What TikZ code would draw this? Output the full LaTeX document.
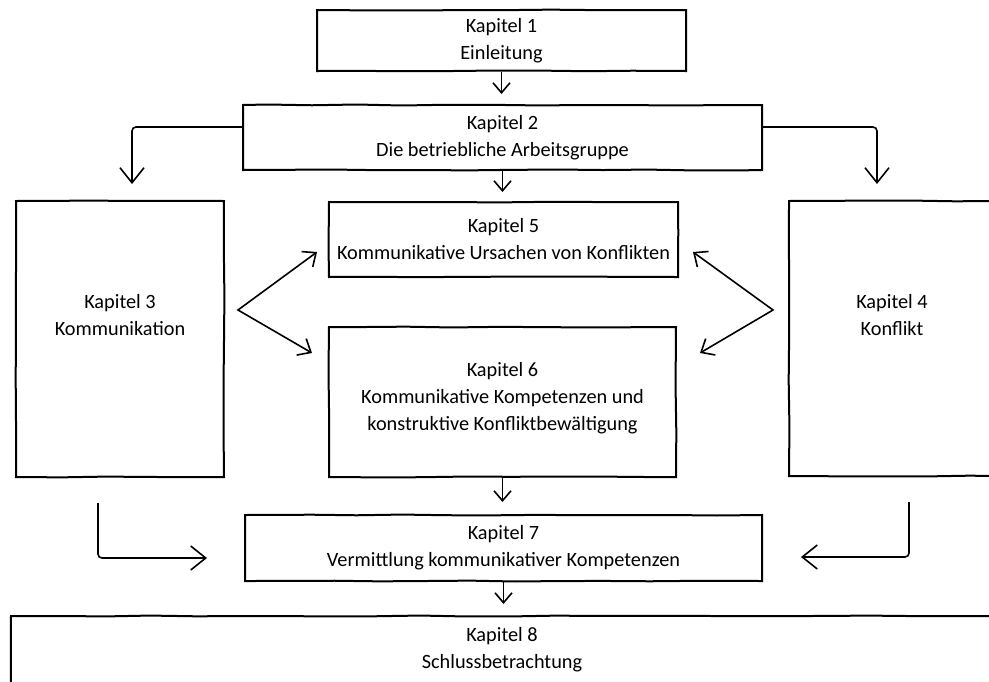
\documentclass[tikz,border=0pt]{standalone}
\usepackage{fontspec}
\setmainfont{Carlito}
\usetikzlibrary{arrows.meta,decorations.pathmorphing}
\begin{document}
\begin{tikzpicture}[x=1pt,y=-1pt,
  box/.style={draw, line width=2pt, inner sep=0pt,
    decorate, decoration={random steps, segment length=45pt, amplitude=0.5pt}},
  txt/.style={font=\fontsize{20.3}{27}\selectfont, align=center, inner sep=0pt},
  conn/.style={line width=1.6pt, -{Straight Barb[length=10pt,width=17pt,line width=1.6pt]}},
  bigconn/.style={line width=1.6pt, rounded corners=4pt,
    -{Straight Barb[length=15pt,width=24pt,line width=1.6pt]}},
  bidir/.style={line width=1.6pt,
    {Straight Barb[length=11pt,width=19pt,line width=1.6pt]}-{Straight Barb[length=11pt,width=19pt,line width=1.6pt]}}
]
\pgfmathsetseed{7}
\useasboundingbox (0,0) rectangle (989,681);
\clip (0,0) rectangle (989,681);

% boxes
\node[box, minimum width=369pt, minimum height=61pt] (k1) at (501.5,40.5) {};
\node[box, minimum width=519pt, minimum height=65pt] (k2) at (502.5,137.5) {};
\node[box, minimum width=208pt, minimum height=276pt] (k3) at (120,339) {};
\node[box, minimum width=211pt, minimum height=275pt] (k4) at (894.5,338.5) {};
\node[box, minimum width=349pt, minimum height=75pt] (k5) at (503.5,239.5) {};
\node[box, minimum width=347pt, minimum height=150pt] (k6) at (502.5,402) {};
\node[box, minimum width=517pt, minimum height=66pt] (k7) at (503.5,548) {};
\node[box, minimum width=994pt, minimum height=84pt] (k8) at (508,658) {};

% texts
\node[txt] (t1) at (k1.center) {Kapitel 1\\Einleitung};
\node[txt] (t2) at (k2.center) {Kapitel 2\\Die betriebliche Arbeitsgruppe};
\node[txt] (t3) at (120,315) {Kapitel 3\\Kommunikation};
\node[txt] (t4) at (892,315) {Kapitel 4\\Konflikt};
\node[txt] (t5) at (k5.center) {Kapitel 5\\Kommunikative Ursachen von Konflikten};
\node[txt] (t6) at (502.5,398.5) {Kapitel 6\\Kommunikative Kompetenzen und\\konstruktive Konfliktbewältigung};
\node[txt] (t7) at (k7.center) {Kapitel 7\\Vermittlung kommunikativer Kompetenzen};
\node[txt] (t8) at (502,650) {Kapitel 8\\Schlussbetrachtung};

% coordinates
\coordinate (b1) at (132,127);
\coordinate (b2) at (877,127);
\coordinate (s3) at (98,503);
\coordinate (t7l) at (207,558);
\coordinate (s4) at (909,502);
\coordinate (t7r) at (801,557);
\coordinate (v1) at (238,310);
\coordinate (t5l) at (317,252);
\coordinate (t6l) at (312,353);
\coordinate (v2) at (773,310);
\coordinate (t5r) at (693,252);
\coordinate (t6r) at (700,353);

% connectors
\draw[conn, shorten >=10pt] (k1.south) -- (k1.south |- k2.north);
\draw[conn, shorten >=9pt] (k2.south) -- (k2.south |- k5.north);
\draw[conn, shorten >=12pt] (k6.south) -- (k6.south |- k7.north);
\draw[conn, shorten >=11pt] (k7.south) -- (k7.south |- k8.north);
\draw[bigconn, shorten >=16pt] (k2.west |- b1) -| (k3.north -| b1);
\draw[bigconn, shorten >=16pt] (k2.east |- b2) -| (k4.north -| b2);
\draw[bigconn] (s3) |- (t7l);
\draw[bigconn] (s4) |- (t7r);
\draw[bidir] (t5l) -- (v1) -- (t6l);
\draw[bidir] (t5r) -- (v2) -- (t6r);
\end{tikzpicture}
\end{document}
